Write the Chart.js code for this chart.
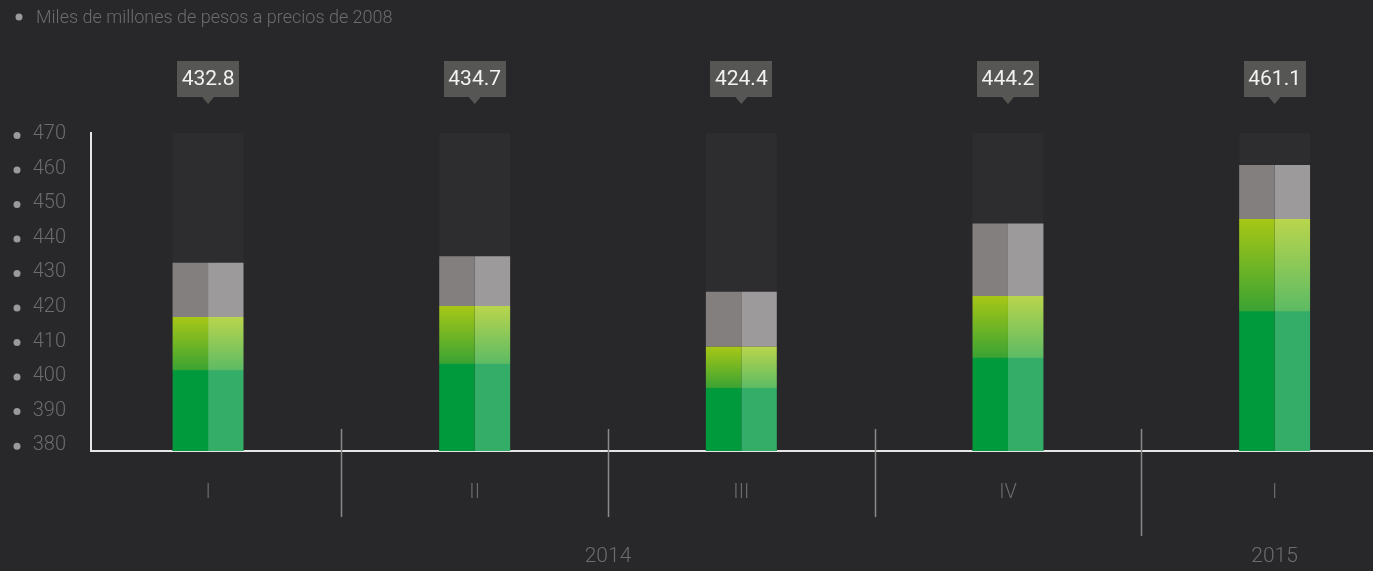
<!DOCTYPE html>
<html>
<head>
<meta charset="utf-8">
<script src="https://cdn.jsdelivr.net/npm/chart.js@4.4.1/dist/chart.umd.min.js"></script>
<style>
  html, body { margin: 0; padding: 0; background: #28282a; }
  #wrap { position: relative; width: 1373px; height: 571px; }
</style>
</head>
<body>
<div id="wrap"><canvas id="c"></canvas></div>
<script>
// ---- data ----
const title = 'Miles de millones de pesos a precios de 2008';
const categories = ['I', 'II', 'III', 'IV', 'I'];
const years = ['2014', '2015'];
const yearFirstIndex = [0, 4];
const yearLastIndex = [3, 4];
const totals = [432.8, 434.7, 424.4, 444.2, 461.1];
const greenPart = [417.1, 420.3, 408.5, 423.2, 445.5];
const yTickValues = [380, 390, 400, 410, 420, 430, 440, 450, 460, 470];

const Y_MIN = 378.3, Y_MAX = 470.4;
const FONT = 'Roboto, "Open Sans", sans-serif';

function greenGradient(ctx, light) {
  const chart = ctx.chart;
  const area = chart.chartArea;
  if (!area || ctx.dataIndex === undefined) return light ? '#33ad68' : '#009a3d';
  const y = chart.scales.y;
  const top = y.getPixelForValue(greenPart[ctx.dataIndex]);
  const bottom = y.getPixelForValue(Y_MIN);
  const stop = top + (bottom - top) * 0.40;
  const g = chart.ctx.createLinearGradient(0, top, 0, stop);
  if (light) {
    g.addColorStop(0, '#b9d54c');
    g.addColorStop(0.99, '#5dbb64');
    g.addColorStop(1, '#33ad68');
  } else {
    g.addColorStop(0, '#a7c716');
    g.addColorStop(0.99, '#3ba333');
    g.addColorStop(1, '#009a3d');
  }
  return g;
}

const decorPlugin = {
  id: 'decor',
  beforeDatasetsDraw(chart) {
    const c = chart.ctx;
    const ys = chart.scales.y, xs = chart.scales.x;
    c.save();
    // title
    c.fillStyle = '#9a9a9a';
    c.beginPath(); c.arc(19, 17, 3.5, 0, Math.PI * 2); c.fill();
    c.fillStyle = '#6c6c6c';
    c.font = '300 18px ' + FONT;
    c.textAlign = 'left'; c.textBaseline = 'middle';
    c.fillText(title, 36, 18);
    // y tick bullets
    c.fillStyle = '#9a9a9a';
    yTickValues.forEach(v => {
      c.beginPath(); c.arc(17, ys.getPixelForValue(v) + 1, 3.5, 0, Math.PI * 2); c.fill();
    });
    // background columns behind each bar pair (extent taken from the bar elements)
    const left = chart.getDatasetMeta(0).data, right = chart.getDatasetMeta(2).data;
    c.fillStyle = '#2d2d2f';
    left.forEach((el, i) => {
      const l = el.getProps(['x', 'width'], true);
      const r = right[i].getProps(['x', 'width'], true);
      const x0 = l.x - l.width / 2, x1 = r.x + r.width / 2;
      const top = ys.getPixelForValue(Y_MAX);
      c.fillRect(x0, top, x1 - x0, chart.chartArea.bottom - top);
    });
    // separators
    c.strokeStyle = '#8a8a8a'; c.lineWidth = 1.5;
    for (let i = 0; i < categories.length - 1; i++) {
      const x = Math.round(xs.getPixelForValue(i + 0.5)) + 0.5;
      const last = yearFirstIndex.includes(i + 1);
      c.beginPath(); c.moveTo(x, 429); c.lineTo(x, last ? 536 : 517); c.stroke();
    }
    // years
    c.fillStyle = '#6c6c6c';
    c.font = '300 21px ' + FONT;
    c.textAlign = 'center'; c.textBaseline = 'middle';
    years.forEach((yr, k) => {
      const x = xs.getPixelForValue((yearFirstIndex[k] + yearLastIndex[k]) / 2);
      c.fillText(yr, x, 557);
    });
    c.restore();
  },
  afterDatasetsDraw(chart) {
    const c = chart.ctx;
    const xs = chart.scales.x;
    c.save();
    totals.forEach((v, i) => {
      const x = xs.getPixelForValue(i);
      const w = 62, h = 36, top = 61;
      c.fillStyle = '#565654';
      c.fillRect(Math.round(x - w / 2), top, w, h);
      c.beginPath();
      c.moveTo(x - 6, top + h); c.lineTo(x + 6, top + h); c.lineTo(x, top + h + 7); c.closePath();
      c.fill();
      c.fillStyle = '#f2f2f2';
      c.font = '400 21px ' + FONT;
      c.textAlign = 'center'; c.textBaseline = 'middle';
      c.fillText(v.toFixed(1), x, top + h / 2 + 1);
    });
    c.restore();
  }
};

const idx = categories.map((_, i) => i);
const greenData = idx.map(i => ({ x: i, y: greenPart[i] }));
const grayData = idx.map(i => ({ x: i, y: +(totals[i] - greenPart[i]).toFixed(1) }));

new Chart(document.getElementById('c'), {
  type: 'bar',
  data: {
    datasets: [
      { label: 'greenL', stack: 'L', data: greenData, backgroundColor: ctx => greenGradient(ctx, false) },
      { label: 'grayL', stack: 'L', data: grayData, backgroundColor: '#847f7f' },
      { label: 'greenR', stack: 'R', data: greenData, backgroundColor: ctx => greenGradient(ctx, true) },
      { label: 'grayR', stack: 'R', data: grayData, backgroundColor: '#9c9a9b' }
    ]
  },
  options: {
    responsive: true,
    maintainAspectRatio: false,
    animation: false,
    layout: { padding: { top: 133, left: 0, right: 0, bottom: 0 } },
    datasets: { bar: { categoryPercentage: 0.266, barPercentage: 1, borderWidth: 0 } },
    plugins: { legend: { display: false }, tooltip: { enabled: false } },
    scales: {
      x: {
        type: 'linear',
        stacked: true,
        offset: false,
        min: -0.439, max: 4.369,
        grid: { display: false, drawTicks: false, offset: false },
        border: { display: true, color: '#e6e6e6', width: 2 },
        afterBuildTicks: s => { s.ticks = idx.map(i => ({ value: i })); },
        afterFit: s => { s.height = 120; },
        ticks: {
          padding: 30,
          color: '#6c6c6c',
          font: { family: FONT, size: 20, weight: '300' },
          callback: v => categories[v]
        }
      },
      y: {
        stacked: true,
        min: Y_MIN, max: Y_MAX,
        grid: { display: false, drawTicks: false },
        border: { display: true, color: '#e6e6e6', width: 2 },
        afterBuildTicks: s => { s.ticks = yTickValues.map(v => ({ value: v })); },
        afterFit: s => { s.width = 91; },
        ticks: {
          padding: 25,
          color: '#6c6c6c',
          font: { family: FONT, size: 20, weight: '300' },
          callback: v => String(v)
        }
      }
    }
  },
  plugins: [decorPlugin]
});
</script>
</body>
</html>
